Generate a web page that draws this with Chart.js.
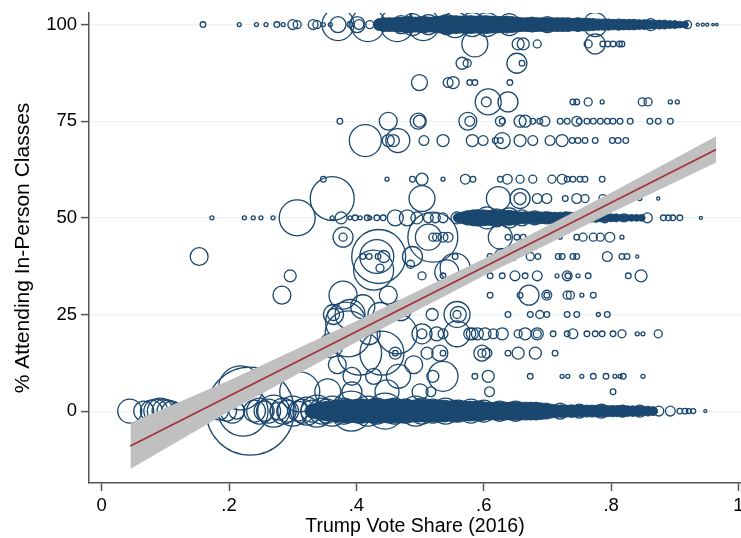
<!DOCTYPE html>
<html lang="en">
<head>
    <meta charset="UTF-8">
    <title>In-Person Classes vs Trump Vote Share</title>
    <script src="https://cdn.jsdelivr.net/npm/chart.js@4.4.1/dist/chart.umd.min.js"></script>
    <style>
        body {
            margin: 0;
            background-color: #fff;
        }
        .chart-container {
            position: relative;
            width: 741px;
            height: 538px;
        }
    </style>
</head>
<body>
    <div class="chart-container">
        <canvas id="scatterChart"></canvas>
    </div>

    <script>
        // Axis ticks
        const yTicks = [0, 25, 50, 75, 100];
        const xTicks = [0, 0.2, 0.4, 0.6, 0.8, 1];
        const xTickLabels = ['0', '.2', '.4', '.6', '.8', '1'];

        // Districts by % in person (rows), vote share and enrollment weight
        const share100 = [.159,.216,.243,.258,.275,.285,.300,.307,.332,.338,.348,.359,.371,.371,.390,.401,.404,.418,.421,.440,.464,.470,.480,.488,.505,.513,.531,.542,.555,.582,.605,.640,.700,.775,.862,.920,.936,.944,.951,.960,.966];
        const size100 = [2,1,1,1,2,1,6,4,6,4,1,1,64,16,2,16,6,72,4,6,72,20,16,30,64,25,9,25,42,36,36,30,16,36,9,4,.6,.6,.6,.4,.4];
        const share95 = [.586,.654,.662,.684,.764,.775,.787,.795,.803,.813,.817];
        const size95 = [42,9,9,4,4,25,2,2,2,2,2];
        const share90 = [.566,.574,.652,.660];
        const size90 = [9,4,25,2];
        const share85 = [.499,.544,.552,.578,.586,.641];
        const size85 = [16,6,9,2,2,2];
        const share80 = [.604,.607,.638,.740,.746,.764,.786,.849,.858,.893,.904];
        const size80 = [6,42,25,2,2,4,1,4,4,1,1];
        const share75 = [.374,.450,.497,.499,.575,.578,.626,.629,.657,.665,.677,.688,.696,.720,.731,.746,.750,.762,.772,.783,.794,.803,.814,.830,.861,.874,.893];
        const size75 = [2,20,16,9,20,6,6,2,9,9,2,2,6,2,2,6,2,2,2,2,2,2,2,2,2,2,2];
        const share70 = [.414,.450,.458,.465,.506,.536,.582,.599,.618,.626,.629,.657,.677,.704,.723,.739,.748,.759,.775,.802,.811,.823];
        const size70 = [64,9,9,36,6,9,9,6,2,2,16,9,6,6,9,2,2,2,2,2,2,2];
        const share60 = [.348,.448,.488,.503,.536,.571,.583,.626,.637,.657,.677,.707,.723,.731,.740,.751,.759,.786];
        const size60 = [2,1,2,9,1,6,2,2,6,4,4,4,6,2,2,2,2,2];
        const share55 = [.362,.503,.623,.657,.657,.684,.699,.728,.746,.759,.787,.845,.874];
        const size55 = [121,42,36,9,25,6,6,2,6,4,4,1,.6];
        const share50 = [.173,.224,.238,.250,.269,.307,.362,.376,.390,.398,.406,.417,.421,.432,.442,.461,.480,.495,.513,.524,.536,.558,.575,.590,.605,.620,.640,.660,.680,.700,.730,.760,.790,.820,.857,.882,.890,.897,.908,.941];
        const size50 = [1,1,1,1,1,81,1,9,1,2,1,2,1,2,2,16,16,9,6,6,6,9,12,16,30,20,25,16,12,9,9,6,6,4,6,2,2,2,2,.6];
        const share45 = [.379,.379,.513,.520,.520,.526,.536,.544,.626,.638,.652,.662,.720,.746,.756,.772,.783,.798,.817];
        const size45 = [25,4,42,156,4,4,6,6,36,2,2,2,1,2,4,4,4,6,1];
        const share40 = [.153,.410,.420,.432,.434,.435,.443,.488,.555,.610,.629,.646,.673,.685,.717,.723,.740,.746,.794,.817,.825,.841];
        const size40 = [20,2,2,72,2,182,9,25,2,2,16,4,4,2,2,2,2,2,6,2,2,.6];
        const share35 = [.296,.503,.536,.610,.629,.649,.665,.684,.715,.731,.732,.748,.764,.827,.847];
        const size35 = [9,4,2,2,2,6,2,6,1,6,2,1,2,2,9];
        const share30 = [.283,.379,.450,.610,.657,.671,.699,.699,.731,.736,.754,.772];
        const size30 = [20,49,20,2,2,25,6,2,4,4,1,2];
        const share25 = [.364,.364,.390,.437,.519,.558,.558,.560,.638,.673,.688,.699,.731,.746,.780,.794];
        const size25 = [9,25,56,36,9,42,4,16,2,2,4,2,2,2,1,2];
        const share20 = [.387,.464,.503,.503,.526,.536,.558,.578,.582,.590,.602,.615,.629,.654,.665,.684,.684,.709,.731,.740,.762,.775,.786,.803,.817,.841,.850,.874];
        const size20 = [132,100,25,6,12,6,42,9,9,9,9,6,9,4,9,9,4,2,2,6,2,2,2,2,4,1,1,4];
        const share15 = [.405,.440,.461,.461,.511,.531,.536,.597,.597,.605,.638,.654,.681,.712];
        const size15 = [121,121,9,2,9,16,2,16,4,6,2,9,9,2];
        const share9 = [.393,.427,.466,.520,.536,.607,.586,.673,.723,.732,.754,.772,.792,.806,.814,.819,.850];
        const size9 = [20,16,36,9,56,9,2,2,1,1,1,2,2,1,1,2,1];
        const share5 = [.311,.355,.393,.448,.517,.609,.803];
        const size5 = [100,42,25,36,6,6,2];
        const share0 = [.044,.066,.078,.085,.092,.098,.104,.110,.118,.125,.163,.175,.185,.196,.205,.212,.222,.233,.240,.248,.255,.262,.270,.278,.285,.292,.300,.308,.315,.322,.330,.338,.346,.354,.362,.370,.380,.392,.405,.418,.432,.445,.460,.478,.493,.503,.520,.540,.560,.580,.600,.625,.650,.690,.720,.750,.785,.818,.845,.875,.893,.908,.916,.922,.929,.948];
        const size0 = [36,25,30,36,42,36,30,25,16,9,9,16,20,25,36,16,156,484,30,42,25,36,64,20,42,30,56,25,36,49,30,64,42,36,56,30,42,100,36,56,42,81,42,36,56,42,36,42,30,36,30,25,25,16,16,12,12,9,9,6,6,2,2,1.5,1.5,.6];

        // Districts off the round-number rows
        const scatterShare = [.427,.437,.485,.555,.542,.383,.360,.370,.410,.420,.470,.490,.500,.218];
        const scatterPct = [36.5,37,38,37,36,23,17,12,27,20,26,12,5,6];
        const scatterSize = [100,4,4,56,36,100,36,20,36,30,25,20,16,121];

        // Heavily overplotted stretches of the 100, 50 and 0 rows
        const core100Share = [.436,.444,.452,.460,.468,.476,.484,.492,.500,.508,.516,.524,.532,.540,.548,.556,.564,.572,.580,.588,.596,.604,.612,.620,.628,.636,.644,.652,.660,.668,.676,.684,.692,.700,.708,.716,.724,.732,.740,.748,.756,.764,.772,.780,.788,.796,.804,.812,.820,.828,.836,.844,.852,.860,.868,.876,.884,.892,.900,.908,.916];
        const core100Size = [9,12,12,12,14,14,16,14,16,16,14,16,18,20,20,20,18,20,20,18,20,20,18,18,16,18,16,14,12,12,14,12,12,12,12,12,12,12,10,12,10,10,9,8,8,8,7,8,7,7,7,6,6,5,5,5,5,4,4,3,3];
        const core50Share = [.560,.568,.576,.584,.592,.600,.608,.616,.624,.632,.640,.648,.656,.664,.672,.680,.688,.696,.704,.712,.720,.728,.736,.744,.752,.760,.768,.776,.784,.792,.800,.808,.816,.824,.832,.840,.848];
        const core50Size = [6,9,12,16,16,16,14,16,14,14,14,12,9,9,9,9,9,9,8,8,8,8,8,8,7,7,5,5,4,4,4,4,3,3,3,3,3];
        const core0Share = [.330,.338,.346,.354,.362,.370,.378,.386,.394,.402,.410,.418,.426,.434,.442,.450,.458,.466,.474,.482,.490,.498,.506,.514,.522,.530,.538,.546,.554,.562,.570,.578,.586,.594,.602,.610,.618,.626,.634,.642,.650,.658,.666,.674,.682,.690,.698,.706,.714,.722,.730,.738,.746,.754,.762,.770,.778,.786,.794,.802,.810,.818,.826,.834,.842,.850,.858,.866];
        const core0Size = [12,16,20,25,25,30,30,36,30,36,36,30,36,36,30,36,36,30,36,30,30,30,30,30,30,30,30,25,30,25,25,25,25,25,20,20,20,20,20,20,20,20,20,20,20,16,16,12,10,10,9,10,9,9,9,9,9,9,8,8,8,8,7,7,7,6,6,5];

        // Linear fit and 95% CI
        const fitShare = [0.045, 0.965];
        const fitPct = [-9.05, 67.7];
        const ciShare = [0.045, 0.2, 0.4, 0.6, 0.8, 0.965];
        const ciLow = [-15.0, -0.1, 17.9, 35.0, 51.3, 64.3];
        const ciHigh = [-3.1, 7.9, 23.3, 39.4, 56.5, 71.1];

        const navy = '#1a476f';

        // marker radius grows with the square root of the weight
        function toPoints(pct, shares, sizes) {
            return shares.map((s, i) => ({ x: s, y: pct, r: 2 * Math.sqrt(sizes[i]) }));
        }

        const rows = [
            [100, share100, size100], [95, share95, size95], [90, share90, size90],
            [85, share85, size85], [80, share80, size80], [75, share75, size75],
            [70, share70, size70], [60, share60, size60], [55, share55, size55],
            [50, share50, size50], [45, share45, size45], [40, share40, size40],
            [35, share35, size35], [30, share30, size30], [25, share25, size25],
            [20, share20, size20], [15, share15, size15], [9, share9, size9],
            [5, share5, size5], [0, share0, size0]
        ];

        let hollowPoints = [];
        rows.forEach(([pct, shares, sizes]) => {
            hollowPoints = hollowPoints.concat(toPoints(pct, shares, sizes));
        });
        scatterShare.forEach((s, i) => {
            hollowPoints.push({ x: s, y: scatterPct[i], r: 2 * Math.sqrt(scatterSize[i]) });
        });

        const corePoints = [].concat(
            toPoints(100, core100Share, core100Size),
            toPoints(50, core50Share, core50Size),
            toPoints(0, core0Share, core0Size)
        );

        Chart.defaults.font.family = '"Liberation Sans", Arial, sans-serif';
        Chart.defaults.font.size = 18.5;
        Chart.defaults.color = '#000';

        const ctx = document.getElementById('scatterChart').getContext('2d');
        new Chart(ctx, {
            type: 'bubble',
            data: {
                datasets: [
                    {
                        data: hollowPoints,
                        borderColor: navy,
                        backgroundColor: 'rgba(0,0,0,0)',
                        borderWidth: 1.3,
                        order: 5
                    },
                    {
                        data: corePoints,
                        borderColor: navy,
                        backgroundColor: navy,
                        borderWidth: 1,
                        order: 4
                    },
                    {
                        type: 'line',
                        data: ciShare.map((x, i) => ({ x: x, y: ciLow[i] })),
                        borderWidth: 0,
                        pointRadius: 0,
                        fill: false,
                        order: 3
                    },
                    {
                        type: 'line',
                        data: ciShare.map((x, i) => ({ x: x, y: ciHigh[i] })),
                        borderWidth: 0,
                        pointRadius: 0,
                        fill: '-1',
                        backgroundColor: '#c0c0c0',
                        order: 2
                    },
                    {
                        type: 'line',
                        data: fitShare.map((x, i) => ({ x: x, y: fitPct[i] })),
                        borderColor: '#a3303b',
                        borderWidth: 1.6,
                        pointRadius: 0,
                        fill: false,
                        order: 1
                    }
                ]
            },
            options: {
                responsive: true,
                maintainAspectRatio: false,
                animation: false,
                events: [],
                layout: { autoPadding: false, padding: { top: 13, right: 0, bottom: 0, left: 0 } },
                plugins: {
                    legend: { display: false },
                    tooltip: { enabled: false }
                },
                scales: {
                    x: {
                        type: 'linear',
                        min: -0.02,
                        max: 1.004,
                        afterBuildTicks: s => { s.ticks = xTicks.map(v => ({ value: v })); },
                        afterFit: s => { s.height = 55; s.paddingLeft = 0; s.paddingRight = 0; },
                        ticks: {
                            callback: (v, i) => xTickLabels[i],
                            padding: 4,
                            maxRotation: 0,
                            autoSkip: false
                        },
                        grid: { drawOnChartArea: false, tickLength: 8, tickColor: '#555', tickWidth: 1.5 },
                        border: { color: '#555', width: 1.5 },
                        title: {
                            display: true,
                            text: 'Trump Vote Share (2016)',
                            font: { size: 19.5 },
                            padding: { top: 0, bottom: 0 }
                        }
                    },
                    y: {
                        min: -18.6,
                        max: 103,
                        afterBuildTicks: s => { s.ticks = yTicks.map(v => ({ value: v })); },
                        afterFit: s => { s.width = 89; s.paddingTop = 0; s.paddingBottom = 0; },
                        ticks: {
                            callback: v => String(v),
                            padding: 4
                        },
                        grid: { color: '#eaf2f3', lineWidth: 1.2, tickLength: 8, tickColor: '#555', tickWidth: 1.5 },
                        border: { color: '#555', width: 1.5 },
                        title: {
                            display: true,
                            text: '% Attending In-Person Classes',
                            font: { size: 21 },
                            padding: { top: 11, bottom: 0 }
                        }
                    }
                }
            }
        });
    </script>
</body>
</html>
